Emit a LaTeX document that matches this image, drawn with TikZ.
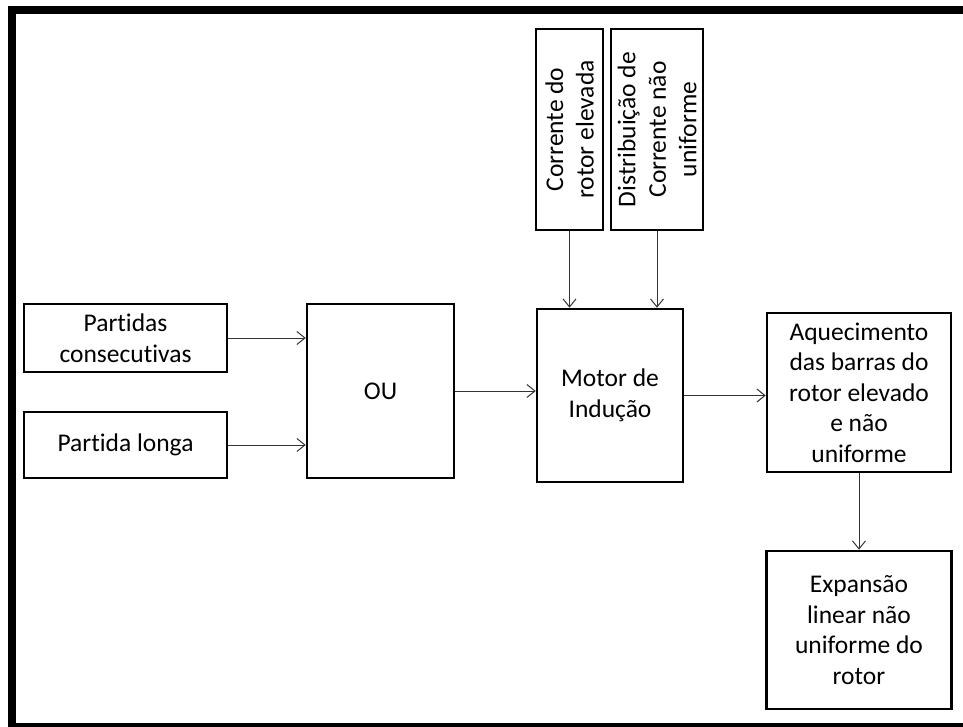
\documentclass[tikz,border=0pt]{standalone}
\usepackage{fontspec}
\setmainfont{Carlito}[Ligatures={NoCommon}]
\usetikzlibrary{arrows.meta}
\begin{document}
\begin{tikzpicture}[x=1pt,y=-1pt,
  blk/.style={draw=black, line width=2.6pt, align=center, inner sep=0pt,
    font=\fontsize{25.5}{30.5}\selectfont},
  conn/.style={draw=black!80, line width=1pt,
    -{Straight Barb[length=8pt,width=13pt,line width=1pt]}}]
\useasboundingbox (0,0) rectangle (963,727);
\fill[white] (0,0) rectangle (963,727);
% frame
\fill[black] (8,6) rectangle (963,14);
\fill[black] (8,6) rectangle (16,727);
\fill[black] (16,723) rectangle (963,726.5);
% nodes
\node[blk, minimum width=203pt, minimum height=68pt] (p1) at (125.5,338) {Partidas\\consecutivas};
\node[blk, minimum width=203pt, minimum height=66pt] (p2) at (125.5,445) {Partida longa};
\node[blk, minimum width=147pt, minimum height=174pt] (ou) at (380.5,391) {OU};
\node[blk, rotate=90, minimum width=201pt, minimum height=67pt] (corr) at (569.5,129.5) {Corrente do\\rotor elevada};
\node[blk, rotate=90, minimum width=201pt, minimum height=92pt] (dist) at (657,129.5) {Distribuição de\\Corrente não\\uniforme};
\node[blk, minimum width=146pt, minimum height=173pt] (motor) at (610,395.5) {Motor de\\Indução};
\node[blk, minimum width=184pt, minimum height=159pt] (aq) at (859,392.5) {Aquecimento\\das barras do\\rotor elevado\\e não\\uniforme};
\node[blk, minimum width=185pt, minimum height=158pt] (ex) at (859,630) {Expansão\\linear não\\uniforme do\\rotor};
% connectors
\draw[conn] (p1.east) -- (p1.east -| ou.west);
\draw[conn] (p2.east) -- (p2.east -| ou.west);
\draw[conn] (ou.east) -- (ou.east -| motor.west);
\draw[conn] (corr.west) -- (corr.west |- motor.north);
\draw[conn] (dist.west) -- (dist.west |- motor.north);
\draw[conn] (motor.east) -- (motor.east -| aq.west);
\draw[conn] (aq.south) -- (aq.south |- ex.north);
\end{tikzpicture}
\end{document}
